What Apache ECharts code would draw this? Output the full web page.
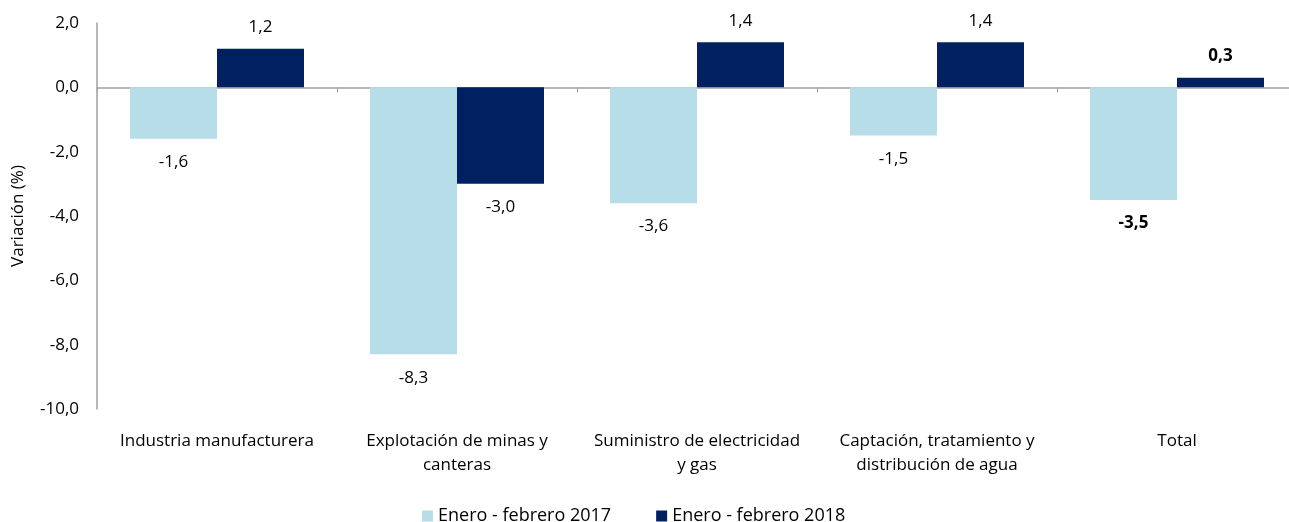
<!DOCTYPE html>
<html>
<head>
<meta charset="utf-8">
<script src="https://cdn.jsdelivr.net/npm/echarts@6/dist/echarts.min.js"></script>
<style>
  html, body { margin: 0; padding: 0; background: #fff; }
  #chart { width: 1289px; height: 522px; }
</style>
</head>
<body>
<div id="chart"></div>
<script>
// datos
var categorias = [
    'Industria manufacturera',
    'Explotación de minas y\ncanteras',
    'Suministro de electricidad\ny gas',
    'Captación, tratamiento y\ndistribución de agua',
    'Total'
];
var serie2017 = [-1.6, -8.3, -3.6, -1.5, -3.5];
var serie2018 = [1.2, -3.0, 1.4, 1.4, 0.3];
var nombres = ['Enero - febrero 2017', 'Enero - febrero 2018'];

var fuente = '"Open Sans", sans-serif';
var tam = 17;

function coma(v) {
    return v.toFixed(1).replace('.', ',');
}

// etiqueta arriba si es positivo, abajo si es negativo; Total en negrita
function datos(valores) {
    return valores.map(function (v, i) {
        var esTotal = i === valores.length - 1;
        return {
            value: v,
            label: {
                position: v >= 0 ? 'top' : 'bottom',
                distance: v >= 0 ? 13 : 15,
                fontWeight: esTotal ? 'bold' : 'normal'
            }
        };
    });
}

var myChart = echarts.init(document.getElementById('chart'));

var option = {
    animation: false,
    textStyle: { fontFamily: fuente },
    grid: { left: 97, top: 23, bottom: 113, width: 1200, outerBoundsMode: 'none' },
    legend: {
        top: 502,
        left: 417,
        itemWidth: 11,
        itemHeight: 11,
        itemGap: 45,
        icon: 'rect',
        textStyle: { fontSize: 18, color: '#000', fontFamily: fuente },
        data: nombres
    },
    xAxis: [
        {
            type: 'category',
            data: categorias,
            axisLine: { onZero: true, lineStyle: { color: '#a0a0a0', width: 1.5 } },
            axisTick: { show: true, length: 5, lineStyle: { color: '#a0a0a0' } },
            axisLabel: { show: false }
        },
        {
            type: 'category',
            data: categorias,
            position: 'bottom',
            axisLine: { show: false, onZero: false },
            axisTick: { show: false },
            axisLabel: {
                color: '#000',
                fontSize: tam,
                fontFamily: fuente,
                margin: 20,
                lineHeight: 24,
                interval: 0
            }
        }
    ],
    yAxis: {
        type: 'value',
        min: -10,
        max: 2,
        interval: 2,
        name: 'Variación (%)',
        nameLocation: 'middle',
        nameGap: 70,
        nameTextStyle: { color: '#000', fontSize: tam, fontFamily: fuente },
        axisLine: { show: true, lineStyle: { color: '#a0a0a0', width: 1.5 } },
        axisTick: { show: false },
        splitLine: { show: false },
        axisLabel: {
            color: '#000',
            fontSize: tam,
            fontFamily: fuente,
            margin: 18,
            formatter: function (v) { return coma(v); }
        }
    },
    series: [
        {
            name: nombres[0],
            type: 'bar',
            data: datos(serie2017),
            barGap: '0%',
            barCategoryGap: '27.5%',
            itemStyle: { color: '#b7dde8' },
            label: {
                show: true,
                color: '#000',
                fontSize: tam,
                fontFamily: fuente,
                formatter: function (p) { return coma(p.value); }
            }
        },
        {
            name: nombres[1],
            type: 'bar',
            data: datos(serie2018),
            barGap: '0%',
            barCategoryGap: '27.5%',
            itemStyle: { color: '#002060' },
            label: {
                show: true,
                color: '#000',
                fontSize: tam,
                fontFamily: fuente,
                formatter: function (p) { return coma(p.value); }
            }
        }
    ]
};

myChart.setOption(option);
</script>
</body>
</html>
